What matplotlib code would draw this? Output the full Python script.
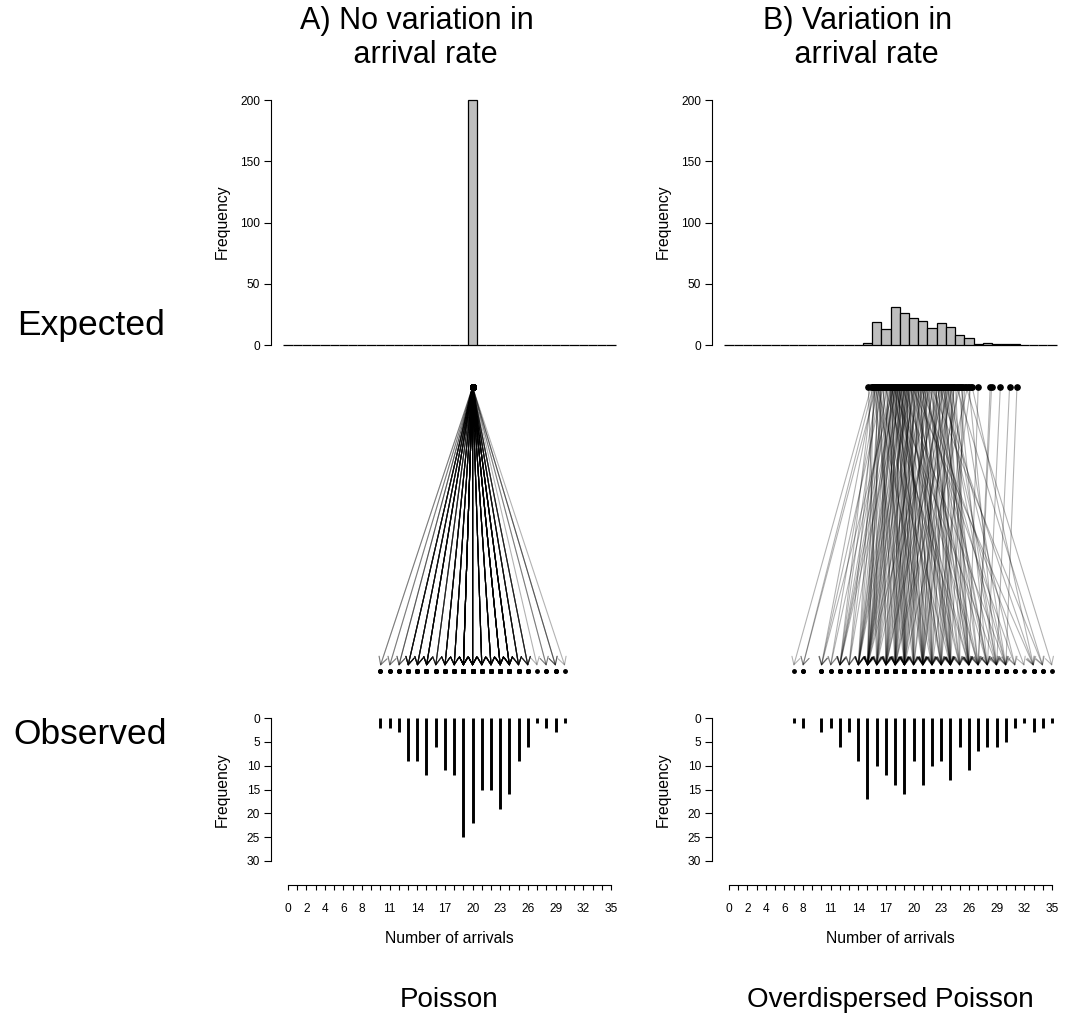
import numpy as np
import matplotlib
matplotlib.use('Agg')
import matplotlib.pyplot as plt

plt.rcParams['font.family'] = ['Liberation Sans', 'DejaVu Sans']

W, H = 1071, 1036

# ---------------- data ----------------
# Panel A: every arrival rate equals 20; observed counts
rate_A = 20.0
obs_values_A = list(range(10, 31))
obs_freq_A = [2, 2, 3, 9, 9, 12, 6, 11, 12, 25, 22, 15, 15, 19, 16, 9, 6, 1, 2, 3, 1]

# Panel B: expected arrival rates and the observed count paired with each
rate_B = [
    15.1, 15.4,
    15.55, 15.6, 15.65, 15.7, 15.75, 15.8, 15.85, 15.9, 15.95, 16.0,
    16.05, 16.1, 16.15, 16.2, 16.25, 16.3, 16.35, 16.4, 16.45,
    16.55, 16.6, 16.7, 16.75, 16.85, 16.9, 17.0, 17.05, 17.15, 17.2, 17.3, 17.35, 17.45,
    17.52, 17.55, 17.58, 17.6, 17.63, 17.66, 17.7, 17.72, 17.75, 17.78, 17.8, 17.83,
    17.86, 17.9, 17.93, 17.96, 18.0, 18.03, 18.06, 18.1, 18.13, 18.16, 18.2, 18.23,
    18.26, 18.3, 18.33, 18.36, 18.4, 18.43, 18.47,
    18.52, 18.56, 18.6, 18.63, 18.67, 18.7, 18.74, 18.78, 18.82, 18.85, 18.88, 18.92,
    18.96, 19.0, 19.03, 19.07, 19.1, 19.14, 19.18, 19.22, 19.26, 19.3, 19.34, 19.38,
    19.42, 19.47,
    19.52, 19.56, 19.61, 19.65, 19.7, 19.74, 19.78, 19.83, 19.87, 19.91, 19.96, 20.0,
    20.05, 20.09, 20.14, 20.18, 20.23, 20.27, 20.32, 20.36, 20.41, 20.46,
    20.53, 20.58, 20.63, 20.68, 20.72, 20.77, 20.82, 20.87, 20.91, 20.96, 21.01, 21.06,
    21.1, 21.15, 21.2, 21.25, 21.3, 21.34, 21.39, 21.45,
    21.53, 21.6, 21.67, 21.74, 21.8, 21.87, 21.94, 22.0, 22.07, 22.14, 22.21, 22.28,
    22.35, 22.43,
    22.53, 22.58, 22.64, 22.69, 22.75, 22.8, 22.86, 22.91, 22.97, 23.02, 23.08, 23.13,
    23.19, 23.24, 23.3, 23.35, 23.41, 23.46,
    23.53, 23.6, 23.66, 23.72, 23.78, 23.84, 23.9, 23.96, 24.02, 24.08, 24.14, 24.2,
    24.27, 24.34, 24.42,
    24.55, 24.66, 24.78, 24.9, 25.02, 25.14, 25.26, 25.4,
    25.55, 25.7, 25.85, 26.0, 26.18, 26.35,
    27.0,
    28.3, 28.45,
    29.4,
    30.4,
    31.2,
]
count_B = [
    16, 7,
    12, 8, 15, 19, 10, 14, 22, 13, 8, 16, 24, 11, 15, 18, 12, 20, 14, 17, 15,
    15, 21, 10, 17, 13, 26, 14, 19, 12, 16, 23, 15, 18,
    19, 14, 25, 11, 16, 21, 15, 12, 18, 29, 14, 17, 10, 22, 15, 19, 26, 13, 20, 15,
    24, 12, 17, 21, 16, 27, 14, 18, 23, 15, 19,
    18, 23, 14, 20, 16, 30, 15, 19, 12, 21, 17, 25, 18, 15, 22, 19, 14, 27, 16, 20,
    17, 24, 19, 15, 21, 18,
    21, 15, 28, 18, 24, 14, 19, 33, 17, 20, 22, 16, 26, 19, 15, 24, 18, 31, 20, 17, 23, 21,
    24, 19, 27, 15, 22, 32, 18, 21, 25, 16, 23, 29, 20, 24, 17, 22, 28, 19, 26, 21,
    26, 18, 30, 22, 15, 25, 34, 19, 24, 17, 28, 21, 26, 23,
    21, 28, 16, 24, 33, 19, 22, 15, 27, 24, 18, 30, 20, 26, 17, 29, 21, 23,
    24, 31, 19, 26, 22, 17, 27, 25, 20, 29, 24, 18, 26, 23, 21,
    26, 34, 21, 28, 18, 30, 25, 23,
    24, 35, 19, 29, 22, 33,
    26,
    27, 27,
    28,
    29,
    30,
]

x_ticks = list(range(0, 36))
x_labelled = [0, 2, 4, 6, 8, 11, 14, 17, 20, 23, 26, 29, 32, 35]
top_yticks = [0, 50, 100, 150, 200]
bot_yticks = [0, 5, 10, 15, 20, 25, 30]

# ---------------- layout helpers ----------------
PX_PER_UNIT = 9.229
X0_A, X0_B = 288.0, 729.0
OFF = 17.0
XL = (-OFF / PX_PER_UNIT, 35 + OFF / PX_PER_UNIT)


def px_axes(fig, left, top, right, bottom):
    return fig.add_axes([left / W, 1 - bottom / H, (right - left) / W, (bottom - top) / H])


fig = plt.figure(figsize=(W / 100, H / 100), dpi=100)

LINE_COL = (0, 0, 0, 0.3)
TICK_FS = 8.6
LAB_FS = 11.3

panels = [
    (X0_A, np.full(sum(obs_freq_A), rate_A), np.repeat(obs_values_A, obs_freq_A)),
    (X0_B, np.array(rate_B), np.array(count_B)),
]

for x0, rates, counts in panels:
    left = x0 - OFF
    right = x0 + 35 * PX_PER_UNIT + OFF

    # ---- top histogram of expected rates ----
    ax = px_axes(fig, left, 90.2, right, 354.8)
    ax.hist(rates, bins=np.arange(-0.5, 36.5, 1), facecolor='#BEBEBE',
            edgecolor='black', linewidth=0.9)
    ax.set_xlim(*XL)
    ax.set_ylim(-8, 208)
    for s in ['top', 'right', 'bottom']:
        ax.spines[s].set_visible(False)
    ax.spines['left'].set_bounds(0, 200)
    ax.spines['left'].set_linewidth(0.8)
    ax.set_xticks([])
    ax.set_yticks(top_yticks)
    ax.set_yticklabels([str(v) for v in top_yticks])
    ax.tick_params(axis='y', length=5, width=0.8, pad=3, labelsize=TICK_FS)
    fig.text((left - 49) / W, 1 - 222 / H, 'Frequency', rotation=90,
             ha='center', va='center', fontsize=LAB_FS)

    # ---- middle: arrows from expected to observed ----
    axm = px_axes(fig, left, 387, right, 671)
    axm.set_xlim(*XL)
    axm.set_ylim(0, 1)
    axm.axis('off')
    for r, c in zip(rates, counts):
        axm.annotate('', xy=(c, 0.018), xytext=(r, 1.0),
                     arrowprops=dict(arrowstyle='->,head_length=0.55,head_width=0.3',
                                     color=LINE_COL, lw=0.8, shrinkA=0, shrinkB=0),
                     annotation_clip=False)
    axm.plot(rates, np.ones(len(rates)), 'o', color='black', ms=3.8, clip_on=False, zorder=5)
    axm.plot(counts, np.zeros(len(counts)), 'o', color='black', ms=2.5, clip_on=False, zorder=5)

    # ---- bottom: observed frequencies (inverted) ----
    vals, freqs = np.unique(counts, return_counts=True)
    axb = px_axes(fig, left, 712.3, right, 866.7)
    axb.vlines(vals, 0, freqs, color='black', lw=2.1)
    axb.set_xlim(*XL)
    axb.set_ylim(31.2, -1.2)
    for s in ['top', 'right']:
        axb.spines[s].set_visible(False)
    axb.spines['left'].set_bounds(0, 30)
    axb.spines['left'].set_linewidth(0.8)
    axb.spines['bottom'].set_bounds(0, 35)
    axb.spines['bottom'].set_position(('outward', 13.2))
    axb.spines['bottom'].set_linewidth(0.8)
    axb.set_yticks(bot_yticks)
    axb.set_yticklabels([str(v) for v in bot_yticks])
    axb.tick_params(axis='y', length=5, width=0.8, pad=3, labelsize=TICK_FS)
    axb.set_xticks(x_ticks)
    axb.set_xticklabels([str(v) if v in x_labelled else '' for v in x_ticks])
    axb.tick_params(axis='x', length=3.6, width=0.8, pad=9, labelsize=TICK_FS)
    axb.set_xlabel('Number of arrivals', fontsize=LAB_FS, labelpad=12)
    fig.text((left - 49) / W, 1 - 789.5 / H, 'Frequency', rotation=90,
             ha='center', va='center', fontsize=LAB_FS)

# ---------------- titles ----------------
fig.text(421 / W, 1 - 38 / H, 'A) No variation in \n arrival rate', ha='center',
         va='center', fontsize=22, linespacing=1.2)
fig.text(862 / W, 1 - 38 / H, 'B) Variation in \n arrival rate', ha='center',
         va='center', fontsize=22, linespacing=1.2)
fig.text(91 / W, 1 - 325 / H, 'Expected', ha='center', va='center', fontsize=25.5)
fig.text(90 / W, 1 - 735 / H, 'Observed', ha='center', va='center', fontsize=25.5)
fig.text(449.5 / W, 1 - 1000 / H, 'Poisson', ha='center', va='center', fontsize=20)
fig.text(890.5 / W, 1 - 1000 / H, 'Overdispersed Poisson', ha='center', va='center', fontsize=20)

fig.savefig('out.png', dpi=100)
